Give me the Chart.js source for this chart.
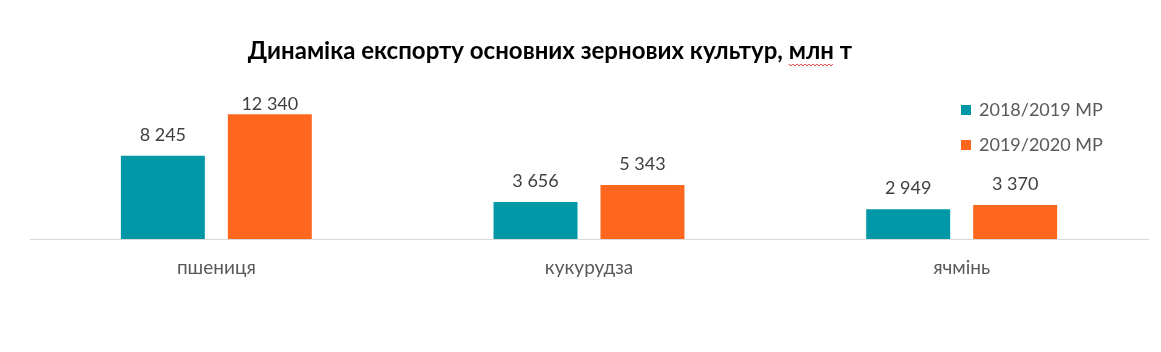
<!DOCTYPE html>
<html>
<head>
<meta charset="utf-8">
<script src="https://cdn.jsdelivr.net/npm/chart.js@4/dist/chart.umd.min.js"></script>
<style>
  html, body { margin: 0; padding: 0; background: #fff; }
  #wrap { width: 1161px; height: 352px; position: relative; }
</style>
</head>
<body>
<div id="wrap"><canvas id="chart"></canvas></div>
<script>
// Chart data
const TITLE = 'Динаміка експорту основних зернових культур, млн т';
const CATEGORIES = ['пшениця', 'кукурудза', 'ячмінь'];
const SERIES_NAMES = ['2018/2019 МР', '2019/2020 МР'];
const SEASON_2018 = [8245, 3656, 2949];
const SEASON_2019 = [12340, 5343, 3370];
const Y_MAX = 14750;

const COLORS = ['#0097A7', '#FF671F'];
const FONT = 'Lato, "Open Sans", sans-serif';

// thousands separated with a space, as in the source
const fmt = v => String(v).replace(/\B(?=(\d{3})+(?!\d))/g, ' ');

const titlePlugin = {
    id: 'fixedTitle',
    afterDraw(chart) {
        const c = chart.ctx;
        c.save();
        c.font = 'bold 24px ' + FONT;
        c.fillStyle = '#000';
        c.textBaseline = 'middle';
        const w = c.measureText(TITLE).width;
        const x0 = 550 - w / 2;
        c.fillText(TITLE, x0, 51);
        // spell-check squiggle under "млн"
        const pre = c.measureText(TITLE.slice(0, TITLE.indexOf('млн'))).width;
        const wl = c.measureText('млн').width;
        c.strokeStyle = '#e03030';
        c.lineWidth = 1;
        c.beginPath();
        for (let x = 0; x <= wl; x += 2) {
            const y = 65 + ((x / 2) % 2 ? 1 : -1);
            if (x === 0) c.moveTo(x0 + pre + x, y); else c.lineTo(x0 + pre + x, y);
        }
        c.stroke();
        c.restore();
    },
};

const valueLabels = {
    id: 'valueLabels',
    afterDatasetsDraw(chart) {
        const c = chart.ctx;
        const minY = chart.chartArea.top + 23;   // labels stay inside the plot area
        c.save();
        c.font = '18px ' + FONT;
        c.fillStyle = '#404040';
        c.textAlign = 'center';
        c.textBaseline = 'bottom';
        chart.data.datasets.forEach((ds, i) => {
            chart.getDatasetMeta(i).data.forEach((bar, j) => {
                c.fillText(fmt(ds.data[j]), bar.x, Math.max(bar.y - 12, minY));
            });
        });
        c.restore();
    },
};

const sideLegend = {
    id: 'sideLegend',
    afterDraw(chart) {
        const c = chart.ctx;
        c.save();
        c.font = '18px ' + FONT;
        c.textBaseline = 'middle';
        chart.data.datasets.forEach((ds, i) => {
            const y = 110 + i * 35;
            c.fillStyle = ds.backgroundColor;
            c.fillRect(961, y - 5, 10, 10);
            c.fillStyle = '#595959';
            c.fillText(ds.label, 979, y);
        });
        c.restore();
    },
};

new Chart(document.getElementById('chart'), {
    type: 'bar',
    data: {
        labels: CATEGORIES,
        datasets: [
            { label: SERIES_NAMES[0], data: SEASON_2018, backgroundColor: COLORS[0] },
            { label: SERIES_NAMES[1], data: SEASON_2019, backgroundColor: COLORS[1] },
        ],
    },
    options: {
        responsive: true,
        maintainAspectRatio: false,
        animation: false,
        categoryPercentage: 0.574,
        barPercentage: 0.785,
        layout: { padding: { top: 90, left: 30, right: 13, bottom: 0 } },
        plugins: {
            legend: { display: false },
            title: { display: false },
            tooltip: { enabled: false },
        },
        scales: {
            x: {
                grid: { display: false, drawTicks: false },
                border: { display: true, color: '#d9d9d9', width: 1 },
                ticks: { color: '#595959', font: { family: FONT, size: 19 }, padding: 17 },
                afterFit(scale) { scale.height = 113; },
            },
            y: {
                display: false,
                min: 0,
                max: Y_MAX,
            },
        },
    },
    plugins: [titlePlugin, valueLabels, sideLegend],
});
</script>
</body>
</html>
